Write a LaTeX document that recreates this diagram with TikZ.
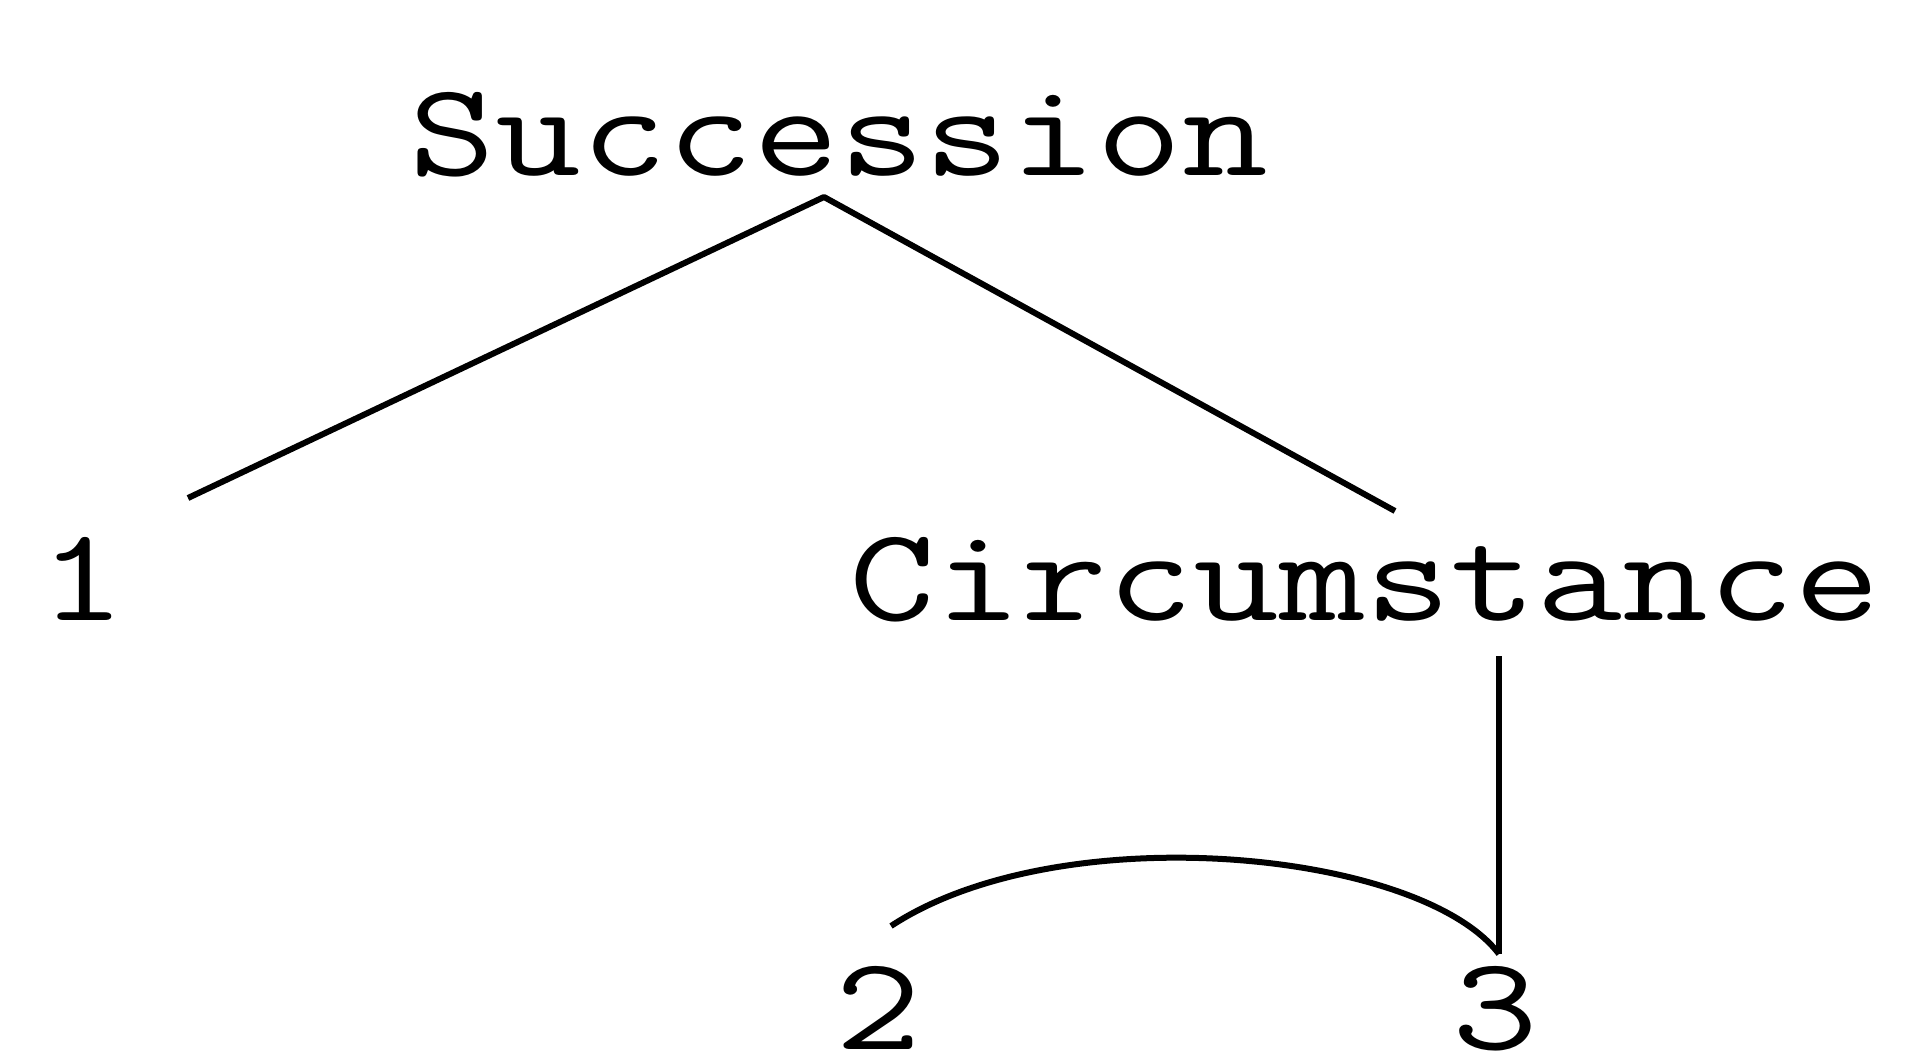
\documentclass[tikz,border=0pt]{standalone}
\usepackage{fontspec}
\usepackage{graphicx}
\newcommand{\mono}[1]{\scalebox{1}[0.8]{#1}}
\begin{document}
\begin{tikzpicture}[
  x=0.5pt, y=-0.5pt,
  word/.style={inner sep=0pt, anchor=base, font=\fontsize{83.4pt}{83.4pt}\selectfont\ttfamily},
  link/.style={line width=3pt, line join=round}
]
\useasboundingbox (0,0) rectangle (1906,1055);
\node[word] (succ) at (839,175) {\mono{Succession}};
\node[word] (one) at (82,620) {\mono{1}};
\node[word] (circ) at (1365,620) {\mono{Circumstance}};
\node[word] (two) at (878,1049) {\mono{2}};
\node[word] (three) at (1495,1049) {\mono{3}};
\coordinate (apex) at (824,197);
\coordinate (oneend) at (188,498);
\coordinate (circend) at (1395,511);
\coordinate (circfoot) at (1499,656);
\coordinate (threetop) at (1499,954);
\coordinate (twotop) at (891,926);
\draw[link] (oneend) -- (apex) -- (circend);
\draw[link] (circfoot) -- (threetop);
\draw[link] (threetop) .. controls (1420,850) and (1060,815) .. (twotop);
\end{tikzpicture}
\end{document}
